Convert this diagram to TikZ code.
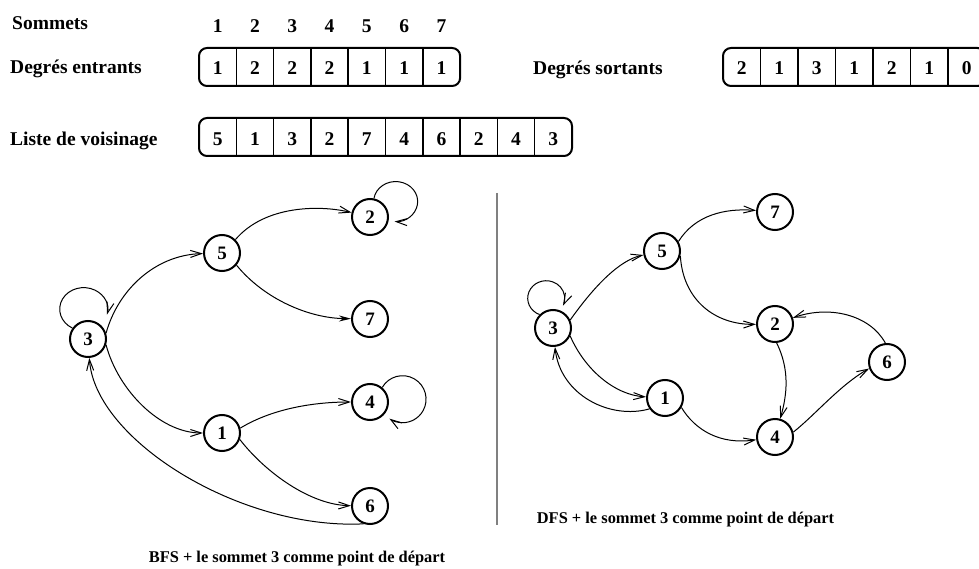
\documentclass[tikz,border=0pt]{standalone}
\usepackage{fontspec}
\setmainfont{Liberation Serif}
\usetikzlibrary{arrows.meta}
\begin{document}
\begin{tikzpicture}[x=1pt,y=-1pt,
  lbl/.style={font=\bfseries\fontsize{19.5}{21}\selectfont, inner sep=0pt},
  captiontext/.style={font=\bfseries\fontsize{16.4}{18}\selectfont, inner sep=0pt},
  vtx/.style={circle, draw, line width=2pt, minimum size=36pt, inner sep=0pt,
              font=\bfseries\fontsize{19}{20}\selectfont},
  link/.style={line width=1pt, -{Straight Barb[length=11pt,width=7pt]}},
  flink/.style={line width=1pt, -{Stealth[length=12pt,width=6pt]}},
  frame/.style={line width=2pt, rounded corners=8pt},
  cellsep/.style={line width=1.5pt},
  sep/.style={line width=2pt, black!50}]
\useasboundingbox (0,0) rectangle (979,569);

% ---------- row labels ----------
\node[lbl, anchor=base west] (tsom) at (12,30) {Sommets};
\node[lbl, anchor=base west] (tin)  at (10,74) {Degrés entrants};
\node[lbl, anchor=base west] (tout) at (533,75) {Degrés sortants};
\node[lbl, anchor=base west] (tvoi) at (10,145.7) {Liste de voisinage};

% vertex numbers above the in-degree array
\foreach \i in {1,...,7}
  \node[lbl, anchor=base] (s\i) at ({199+37.3*(\i-0.5)},33) {\i};

% in-degree array
\draw[frame] (199,48) rectangle (460.1,86);
\foreach \i in {1,...,6}
  \draw[cellsep] ({199+37.3*\i},48) -- ({199+37.3*\i},86);
\foreach \v [count=\i] in {1,2,2,2,1,1,1}
  \node[lbl, anchor=base] (in\i) at ({199+37.3*(\i-0.5)},75) {\v};

% out-degree array
\draw[frame] (723,48) rectangle (985.5,86);
\foreach \i in {1,...,6}
  \draw[cellsep] ({723+37.5*\i},48) -- ({723+37.5*\i},86);
\foreach \v [count=\i] in {2,1,3,1,2,1,0}
  \node[lbl, anchor=base] (out\i) at ({723+37.5*(\i-0.5)},75) {\v};

% adjacency list
\draw[frame] (199,118) rectangle (572,156);
\foreach \i in {1,...,9}
  \draw[cellsep] ({199+37.3*\i},118) -- ({199+37.3*\i},156);
\foreach \v [count=\i] in {5,1,3,2,7,4,6,2,4,3}
  \node[lbl, anchor=base] (adj\i) at ({199+37.3*(\i-0.5)},145.7) {\v};

% ---------- BFS graph ----------
\node[vtx] (L3) at (88,339) {3};
\node[vtx] (L5) at (222,253) {5};
\node[vtx] (L1) at (222,433) {1};
\node[vtx] (L2) at (370,217) {2};
\node[vtx] (L7) at (370,319) {7};
\node[vtx] (L4) at (370,402) {4};
\node[vtx] (L6) at (370,506) {6};

% self loops (elliptic arcs leaving the vertex border)
\draw[link] (L3.145) arc[start angle=118, end angle=375, x radius=24, y radius=21.5];
\draw[link] (L2.78) arc[start angle=-171, end angle=93, x radius=22, y radius=20];
\draw[link] (L4.50) arc[start angle=-150, end angle=124, x radius=23.5, y radius=23.5];

\draw[link] (L3.18) .. controls (118,290) and (155,255) .. (L5);
\draw[link] (L3.-18) .. controls (118,390) and (160,433) .. (L1);
\draw[link] (L5.45) .. controls (265,205) and (320,205) .. (L2);
\draw[flink] (L5.-40) .. controls (265,300) and (310,318) .. (L7);
\draw[link] (L1.15) .. controls (270,410) and (310,402) .. (L4);
\draw[link] (L1.-20) .. controls (265,472) and (310,505) .. (L6);
\draw[link] (L6.-110) .. controls (240,530) and (95,440) .. (L3);

% separator
\coordinate (septop) at (497,193);
\coordinate (sepbot) at (497,525);
\draw[sep] (septop) -- (sepbot);

% ---------- DFS graph ----------
\node[vtx] (R3) at (553,328) {3};
\node[vtx] (R5) at (662,251) {5};
\node[vtx] (R1) at (665,398) {1};
\node[vtx] (R7) at (775,212) {7};
\node[vtx] (R2) at (775,324) {2};
\node[vtx] (R4) at (775,437) {4};
\node[vtx] (R6) at (887,362) {6};

\draw[link] (R3.135) arc[start angle=111, end angle=385, x radius=18.5, y radius=17.5];
\draw[link] (R3.25) .. controls (595,285) and (620,260) .. (R5);
\draw[link] (R3.-25) .. controls (585,370) and (615,395) .. (R1);
\draw[link] (R1.-145) .. controls (610,420) and (560,395) .. (R3);
\draw[link] (R5.30) .. controls (695,215) and (725,208) .. (R7);
\draw[link] (R5.-15) .. controls (683,300) and (715,325) .. (R2);
\draw[link] (R2.-85) .. controls (790,370) and (787,395) .. (R4);
\draw[link] (R1.-30) .. controls (695,430) and (720,445) .. (R4);
\draw[link] (R4.15) .. controls (815,415) and (840,385) .. (R6.-160);
\draw[link] (R6.95) .. controls (870,315) and (830,305) .. (R2);

% ---------- captions ----------
\node[captiontext, anchor=base] (capdfs) at (685.5,523) {DFS + le sommet 3 comme point de départ};
\node[captiontext, anchor=base] (capbfs) at (297,562) {BFS + le sommet 3 comme point de départ};
\end{tikzpicture}
\end{document}
